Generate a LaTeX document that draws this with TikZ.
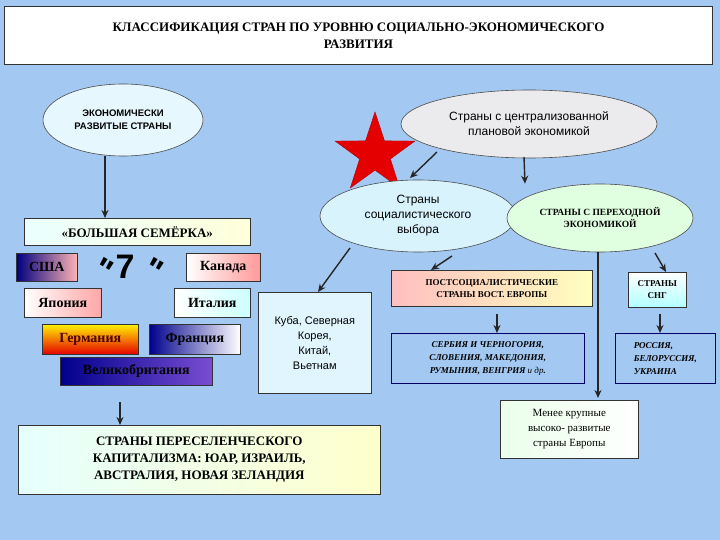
\documentclass[tikz,border=0pt]{standalone}
\usepackage{fontspec}
\setmainfont{Liberation Serif}
\newfontfamily\sansf{Liberation Sans}
\usetikzlibrary{shapes.geometric,shapes.misc,arrows.meta}
\definecolor{bg}{HTML}{A3C8F2}
\tikzset{
 box/.style={draw=black!80,line width=0.6pt,inner sep=2pt,align=center},
 ell/.style={ellipse,draw=black!70,line width=0.6pt,align=center,inner sep=0pt},
 arr/.style={-{Stealth[length=8pt,width=7pt]},line width=1.4pt,draw=black!85},
 big/.style={font=\bfseries\fontsize{14}{16}\selectfont}
}
\begin{document}
\begin{tikzpicture}[x=1pt,y=-1pt]
\fill[bg] (0,0) rectangle (720,540);
\useasboundingbox (0,0) rectangle (720,540);
\node[box,fill=white,line width=1pt,minimum width=708,minimum height=58,anchor=north west,font=\bfseries\fontsize{13}{17}\selectfont] (t) at (4,6) {КЛАССИФИКАЦИЯ СТРАН ПО УРОВНЮ СОЦИАЛЬНО-ЭКОНОМИЧЕСКОГО\\РАЗВИТИЯ};
\node[ell,fill=cyan!10!white,minimum width=160,minimum height=72,font=\sansf\bfseries\fontsize{9.5}{13}\selectfont] (e1) at (123,120) {ЭКОНОМИЧЕСКИ\\РАЗВИТЫЕ СТРАНЫ};
\node[ell,fill=blue!5!gray!15,minimum width=256,minimum height=68,font=\sansf\fontsize{12}{15}\selectfont] (e2) at (529,124) {Страны с централизованной\\плановой экономикой};
\node[star,star points=5,star point ratio=2.6,fill=red!90!black,draw=red!70!black,minimum size=84] (st) at (375,154) {};
\node[ell,fill=cyan!15!white,minimum width=196,minimum height=72,font=\sansf\fontsize{12}{15}\selectfont] (e3) at (418,216) {Страны\\социалистического\\выбора};
\node[ell,fill=green!12!white,minimum width=186,minimum height=68,font=\bfseries\fontsize{9.5}{12}\selectfont] (e4) at (600,218) {СТРАНЫ С ПЕРЕХОДНОЙ\\ЭКОНОМИКОЙ};
\node[box,left color=cyan!8!white,right color=yellow!15!white,minimum width=226,minimum height=27,anchor=north west,font=\bfseries\fontsize{13}{15}\selectfont] (g7) at (24,218) {«БОЛЬШАЯ СЕМЁРКА»};
\node[box,left color=blue!50!black,right color=red!30!white,minimum width=61,minimum height=28,anchor=north west,big] (us) at (16,253) {США};
\node[box,left color=white,right color=red!40!white,minimum width=74,minimum height=28,anchor=north west,big] (ca) at (186,253) {Канада};
\node[box,left color=white,right color=red!35!white,minimum width=77,minimum height=29,anchor=north west,big] (jp) at (24,288) {Япония};
\node[box,left color=white,right color=cyan!20!white,minimum width=76,minimum height=29,anchor=north west,big] (it) at (174,288) {Италия};
\node[box,top color=yellow!90!orange,bottom color=red!90!black,minimum width=96,minimum height=30,anchor=north west,big,text=red!30!black] (de) at (42,324) {Германия};
\node[box,left color=blue!55!black,right color=white,minimum width=91,minimum height=30,anchor=north west,big] (fr) at (149,324) {Франция};
\node[box,left color=blue!55!black,right color=red!25!blue!70!white,minimum width=152,minimum height=28,anchor=north west,big] (uk) at (60,357) {Великобритания};
\node[font=\sansf\bfseries\fontsize{34}{34}\selectfont] (seven) at (128,270) {\raisebox{2pt}{\rotatebox{-30}{\textbf{"}}}7\,\raisebox{2pt}{\rotatebox{-30}{\textbf{"}}}};
\node[box,fill=cyan!12!white,minimum width=113,minimum height=101,anchor=north west,font=\sansf\fontsize{11}{15}\selectfont] (cu) at (258,292) {Куба, Северная\\Корея,\\Китай,\\Вьетнам};
\node[box,left color=cyan!10!white,right color=yellow!20!white,minimum width=362,minimum height=69,anchor=north west,font=\bfseries\fontsize{13}{17}\selectfont] (rs) at (18,425) {СТРАНЫ ПЕРЕСЕЛЕНЧЕСКОГО\\КАПИТАЛИЗМА: ЮАР, ИЗРАИЛЬ,\\АВСТРАЛИЯ, НОВАЯ ЗЕЛАНДИЯ};
\node[box,left color=red!25!white,right color=yellow!25!white,minimum width=201,minimum height=36,anchor=north west,font=\bfseries\fontsize{9}{12}\selectfont] (ps) at (391,270) {ПОСТСОЦИАЛИСТИЧЕСКИЕ\\СТРАНЫ ВОСТ. ЕВРОПЫ};
\node[box,top color=white,bottom color=cyan!30!white,minimum width=58,minimum height=35,anchor=north west,font=\bfseries\fontsize{9}{12}\selectfont] (sng) at (628,272) {СТРАНЫ\\СНГ};
\node[box,draw=blue!40!black,fill=bg,minimum width=193,minimum height=50,anchor=north west,font=\bfseries\itshape\fontsize{9}{13}\selectfont] (se) at (391,333) {СЕРБИЯ И ЧЕРНОГОРИЯ,\\СЛОВЕНИЯ, МАКЕДОНИЯ,\\РУМЫНИЯ, ВЕНГРИЯ {\mdseries и др}.};
\node[box,draw=blue!40!black,fill=bg,minimum width=100,minimum height=50,anchor=north west,font=\bfseries\itshape\fontsize{9}{13}\selectfont,align=left] (ru) at (615,333) {РОССИЯ,\\БЕЛОРУССИЯ,\\УКРАИНА};
\node[box,left color=green!8!white,right color=white,minimum width=138,minimum height=58,anchor=north west,font=\fontsize{11}{15}\selectfont] (me) at (500,400) {Менее крупные\\высоко- развитые\\страны Европы};
\draw[arr] (e1.south -| 105,0) -- (g7.north -| 105,0);
\draw[arr] (437,152) -- (410,178);
\draw[arr] (350,248) -- (cu.north -| 318,0);
\draw[arr] (524,157) -- (e4.north -| 525,0);
\draw[arr] (452,256) -- (ps.north -| 431,0);
\draw[arr] (e4.south -| 598,0) -- (598,398);
\draw[arr] (655,253) -- (sng.north -| 666,0);
\draw[arr] (497,314) -- (se.north -| 497,0);
\draw[arr] (660,314) -- (ru.north -| 660,0);
\draw[arr] (120,402) -- (rs.north -| 120,0);
\end{tikzpicture}
\end{document}
